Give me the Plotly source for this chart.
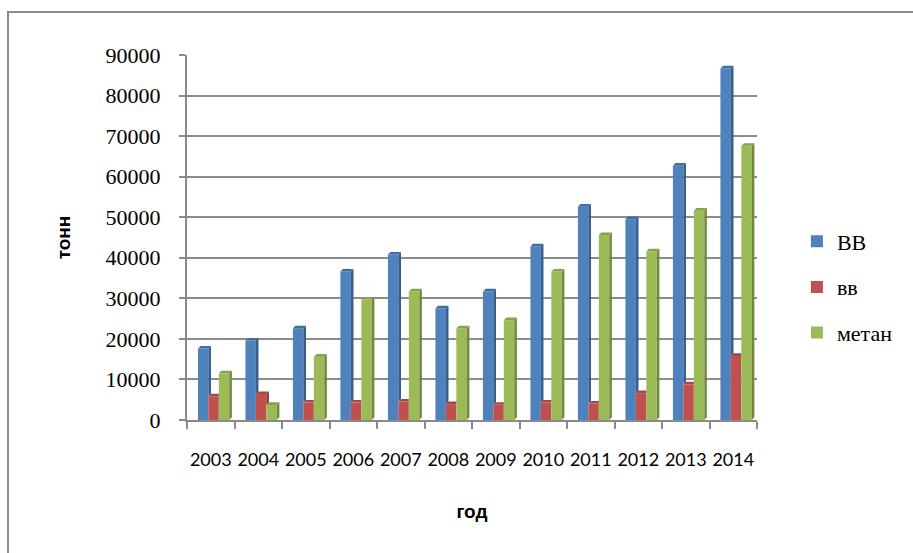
import plotly.graph_objects as go

years = ["2003", "2004", "2005", "2006", "2007", "2008", "2009", "2010", "2011", "2012", "2013", "2014"]
series_names = ["ВВ", "вв", "метан"]
vals_BB = [17600, 19600, 22600, 36600, 40800, 27500, 31700, 42800, 52600, 49500, 62700, 86700]
vals_bb = [5800, 6400, 4300, 4300, 4550, 3900, 3750, 4300, 4050, 6600, 8800, 15800]
vals_metan = [11500, 3700, 15600, 29700, 31700, 22600, 24600, 36600, 45600, 41600, 51600, 67600]

front_colors = ["#4F81BD", "#C0504D", "#9BBB59"]
side_colors = ["#375E8C", "#8E3A38", "#728A40"]
top_colors = ["#3F6CA3", "#A84644", "#86A34B"]

all_vals = [vals_BB, vals_bb, vals_metan]
x_idx = list(range(len(years)))
W = 0.22
offsets = [-0.27, -0.05, 0.17]
DX = 0.055
DY = 650

SERIF = "Liberation Serif"
SANS = "Liberation Sans"

fig = go.Figure()

for k, (name, vals) in enumerate(zip(series_names, all_vals)):
    fig.add_trace(go.Bar(
        x=x_idx, y=vals, name=name, width=W, offset=offsets[k],
        marker=dict(color=front_colors[k], line=dict(width=0)),
        legendgroup=name,
    ))

# pseudo-3D faces computed from the data
for k, vals in enumerate(all_vals):
    nxt = all_vals[k + 1] if k + 1 < len(all_vals) else None
    sx, sy, tx, ty = [], [], [], []
    for i, v in enumerate(vals):
        x0 = i + offsets[k]
        x1 = x0 + W
        vn = nxt[i] if nxt is not None else 0
        if v > vn:
            sx += [x1, x1 + DX, x1 + DX, x1, x1, None]
            sy += [vn, vn + DY, v + DY, v, vn, None]
        if nxt is not None and vn > v:
            tx += [x0, x0 + DX, x1, x1, x0, None]
            ty += [v, v + DY, v + DY, v, v, None]
        else:
            tx += [x0, x0 + DX, x1 + DX, x1, x0, None]
            ty += [v, v + DY, v + DY, v, v, None]
    fig.add_trace(go.Scatter(x=sx, y=sy, mode="lines", fill="toself",
                             fillcolor=side_colors[k], line=dict(width=0),
                             showlegend=False, hoverinfo="skip"))
    fig.add_trace(go.Scatter(x=tx, y=ty, mode="lines", fill="toself",
                             fillcolor=top_colors[k], line=dict(width=0),
                             showlegend=False, hoverinfo="skip"))

L, R, T, B = 187, 757, 55, 420
Wd, Ht = 913, 553

def px(xp):
    return (xp - L) / (R - L)

def py(yp):
    return (B - yp) / (B - T)

fig.update_layout(
    width=Wd, height=Ht,
    margin=dict(l=L, r=Wd - R, t=T, b=Ht - B),
    paper_bgcolor="white", plot_bgcolor="white",
    barmode="overlay",
    showlegend=True,
    legend=dict(x=1.07, y=py(287), xanchor="left", yanchor="middle",
                font=dict(family=SERIF, size=22, color="black"),
                tracegroupgap=14, itemwidth=30),
    xaxis=dict(
        range=[-0.5, 11.5],
        tickmode="array", tickvals=x_idx, ticktext=years,
        ticks="", showgrid=False, zeroline=False,
        showline=True, linecolor="#8a8a8a", linewidth=2,
        tickfont=dict(family="Lato", size=18, color="black"),
        ticklabelstandoff=22,
        minor=dict(tick0=-0.5, dtick=1, ticks="outside", ticklen=7, tickcolor="#8a8a8a", tickwidth=2),
        title=dict(text="<b>год</b>", standoff=36,
                   font=dict(family=SANS, size=19, color="black")),
    ),
    yaxis=dict(
        range=[0, 90000], dtick=10000, tickformat="d",
        showgrid=True, gridcolor="#8c8c8c", gridwidth=2,
        zeroline=False,
        showline=True, linecolor="#8a8a8a", linewidth=2,
        ticks="outside", ticklen=6, tickcolor="#8a8a8a", tickwidth=2,
        ticklabelstandoff=14,
        tickfont=dict(family=SERIF, size=22, color="black"),
        title=dict(text="<b>тонн</b>", standoff=30,
                   font=dict(family=SANS, size=19, color="black")),
    ),
    shapes=[dict(type="rect", xref="paper", yref="paper",
                 x0=px(8), x1=px(930), y0=py(570), y1=py(12),
                 line=dict(color="#8c8c8c", width=2), fillcolor="rgba(0,0,0,0)", layer="below")],
)

fig.write_html("out.html")
